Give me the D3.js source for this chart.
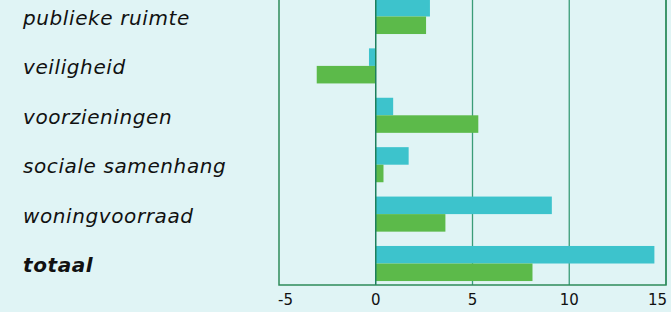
<!DOCTYPE html>
<html>
<head>
<meta charset="utf-8">
<script src="https://cdn.jsdelivr.net/npm/d3@7"></script>
<style>
  body { margin: 0; background: #e0f4f5; }
  svg { display: block; }
</style>
</head>
<body>
<div id="chart"></div>
<script>
// categories top to bottom
var categories = ["publieke ruimte", "veiligheid", "voorzieningen", "sociale samenhang", "woningvoorraad", "totaal"];
var seriesNames = ["a", "b"];
var seriesA = [2.8, -0.35, 0.9, 1.7, 9.1, 14.4];   // cyan
var seriesB = [2.6, -3.05, 5.3, 0.4, 3.6, 8.1];    // green
var tickValues = [-5, 0, 5, 10, 15];

var width = 671, height = 312;
var margin = { top: -5, right: 5, bottom: 27, left: 279 };

var svg = d3.select("#chart").append("svg")
    .attr("width", width)
    .attr("height", height);

var x = d3.scaleLinear()
    .domain([-5, 15])
    .range([margin.left, width - margin.right]);

var y = d3.scaleBand()
    .domain(categories)
    .range([margin.top, height - margin.bottom])
    .paddingInner(0.29)
    .paddingOuter(0.08);

var ySub = d3.scaleBand()
    .domain(seriesNames)
    .range([0, y.bandwidth()]);

var colours = { a: "#3dc3cc", b: "#5cba4a" };

// vertical grid lines
svg.append("g")
    .selectAll("line")
    .data(tickValues.filter(function (d) { return d !== 0 && d !== -5; }))
    .enter()
    .append("line")
    .attr("x1", function (d) { return x(d); })
    .attr("x2", function (d) { return x(d); })
    .attr("y1", 0)
    .attr("y2", height - margin.bottom)
    .attr("stroke", "#3a9c78")
    .attr("stroke-width", 1.3);

// bars
var rows = categories.map(function (c, i) {
    return { cat: c, a: seriesA[i], b: seriesB[i] };
});

var group = svg.append("g")
    .selectAll("g")
    .data(rows)
    .enter()
    .append("g")
    .attr("transform", function (d) { return "translate(0," + y(d.cat) + ")"; });

group.selectAll("rect")
    .data(function (d) {
        return seriesNames.map(function (s) { return { key: s, value: d[s] }; });
    })
    .enter()
    .append("rect")
    .attr("x", function (d) { return x(Math.min(0, d.value)); })
    .attr("y", function (d) { return ySub(d.key); })
    .attr("width", function (d) { return Math.abs(x(d.value) - x(0)); })
    .attr("height", ySub.bandwidth())
    .attr("fill", function (d) { return colours[d.key]; });

// zero line
svg.append("line")
    .attr("x1", x(0))
    .attr("x2", x(0))
    .attr("y1", 0)
    .attr("y2", height - margin.bottom)
    .attr("stroke", "#1d7f5c")
    .attr("stroke-width", 1.5);

// frame: left, right, bottom
var frameColour = "#2e8b5a";
svg.append("path")
    .attr("d", "M" + x(-5) + ",0V" + (height - margin.bottom) + "H" + x(15) + "V0")
    .attr("fill", "none")
    .attr("stroke", frameColour)
    .attr("stroke-width", 1.5);

// tick labels (outer ones kept inside the frame)
svg.append("g")
    .attr("font-family", "Verdana, 'DejaVu Sans', sans-serif")
    .attr("font-size", 15)
    .attr("fill", "#111")
    .selectAll("text")
    .data(tickValues)
    .enter()
    .append("text")
    .attr("x", function (d, i) {
        if (i === 0) return x(d) - 1;
        if (i === tickValues.length - 1) return x(d) + 1;
        return x(d);
    })
    .attr("y", height - margin.bottom + 20)
    .attr("text-anchor", function (d, i) {
        if (i === 0) return "start";
        if (i === tickValues.length - 1) return "end";
        return "middle";
    })
    .text(function (d) { return d; });

// category labels
svg.append("g")
    .attr("font-family", "Verdana, 'DejaVu Sans', sans-serif")
    .attr("font-size", 20)
    .attr("font-style", "italic")
    .attr("letter-spacing", 0.6)
    .attr("fill", "#111")
    .selectAll("text")
    .data(categories)
    .enter()
    .append("text")
    .attr("x", 23)
    .attr("y", function (d) { return y(d) + y.bandwidth() / 2; })
    .attr("dy", 8.5)
    .attr("font-weight", function (d) { return d === "totaal" ? "bold" : "normal"; })
    .text(function (d) { return d; });
</script>
</body>
</html>
